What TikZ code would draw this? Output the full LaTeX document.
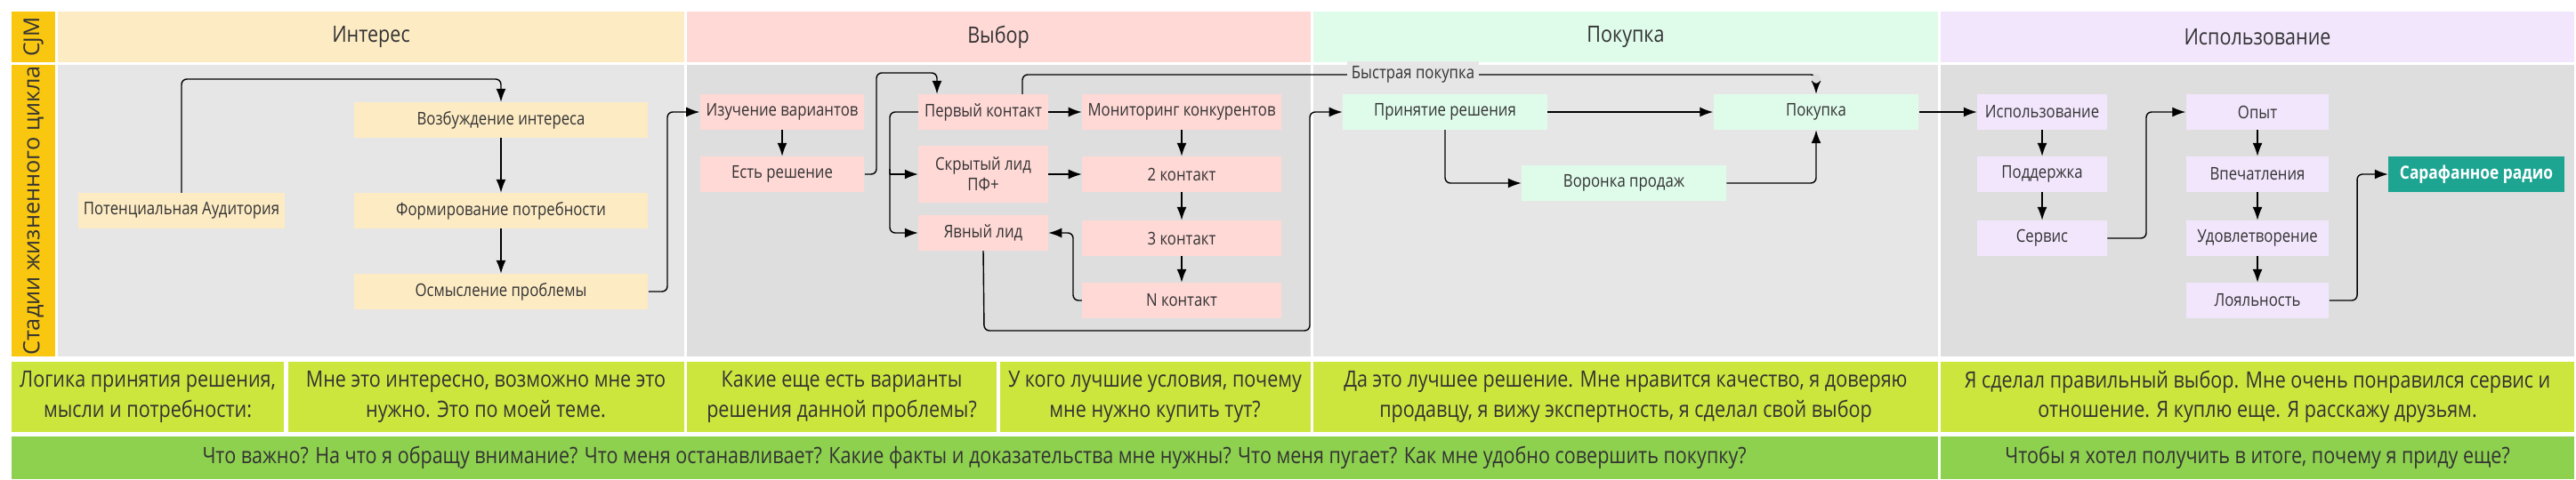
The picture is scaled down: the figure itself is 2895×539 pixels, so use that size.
\documentclass[tikz,border=0pt]{standalone}
\usepackage{fontspec}
\setmainfont[FakeStretch=0.85]{Open Sans}
\newfontfamily\wideos{Open Sans}
\usetikzlibrary{arrows.meta}
\definecolor{cYel}{HTML}{FAC710}
\definecolor{hInt}{HTML}{FDEBC4}
\definecolor{hVyb}{HTML}{FFD9D6}
\definecolor{hPok}{HTML}{DFFCEB}
\definecolor{hIsp}{HTML}{F2E6FD}
\definecolor{gA}{HTML}{E6E6E6}
\definecolor{gB}{HTML}{DEDEDE}
\definecolor{cLime}{HTML}{CDE63D}
\definecolor{cGrn}{HTML}{8ED14F}
\definecolor{cTeal}{HTML}{1EA592}
\definecolor{cTxt}{HTML}{333333}
\tikzset{
  box/.style={minimum width=#1, minimum height=0.39cm, inner sep=0pt, align=center, font=\fontsize{5.6}{6.6}\selectfont, text=cTxt},
  hdr/.style={font=\fontsize{7.2}{8.6}\selectfont, text=cTxt},
  row/.style={font=\fontsize{7.2}{9.4}\selectfont, text=cTxt, align=center},
  con/.style={draw=black, line width=0.4pt, rounded corners=0.06cm, -{Latex[length=1.5mm,width=1.1mm]}},
  conn/.style={draw=black, line width=0.4pt, rounded corners=0.06cm}
}
\begin{document}
\begin{tikzpicture}[x=0.01cm,y=-0.01cm]
\useasboundingbox (0,0) rectangle (2895,539);
\fill[white] (0,0) rectangle (2895,539);
% left strip
\fill[cYel] (13,13) rectangle (62,70);
\fill[cYel] (13,73) rectangle (62,401);
\node[rotate=90, font=\wideos\fontsize{7}{8}\selectfont, text=cTxt] (cjm) at (37.5,41.5) {CJM};
\node[rotate=90, font=\wideos\fontsize{7.2}{8}\selectfont, text=cTxt] (life) at (37.5,237) {Стадии жизненного цикла};
% headers
\fill[hInt] (65,13) rectangle (769,70);
\fill[hVyb] (772,13) rectangle (1473,70);
\fill[hPok] (1476,13) rectangle (2178,70);
\fill[hIsp] (2181,13) rectangle (2893,70);
\node[hdr] (h1) at (417,41.5) {Интерес};
\node[hdr] (h2) at (1122,41.5) {Выбор};
\node[hdr] (h3) at (1827,41.5) {Покупка};
\node[hdr] (h4) at (2537,41.5) {Использование};
% bodies
\fill[gA] (65,73) rectangle (769,401);
\fill[gB] (772,73) rectangle (1473,401);
\fill[gA] (1476,73) rectangle (2178,401);
\fill[gB] (2181,73) rectangle (2893,401);
% row 3
\fill[cLime] (13,407) rectangle (319,486);
\fill[cLime] (324,407) rectangle (769,486);
\fill[cLime] (772,407) rectangle (1120,486);
\fill[cLime] (1124,407) rectangle (1473,486);
\fill[cLime] (1476,407) rectangle (2178,486);
\fill[cLime] (2181,407) rectangle (2893,486);
\node[row] (r1) at (166,446.5) {Логика принятия решения,\\мысли и потребности:};
\node[row] (r2) at (546,446.5) {Мне это интересно, возможно мне это\\нужно. Это по моей теме.};
\node[row] (r3) at (946,446.5) {Какие еще есть варианты\\решения данной проблемы?};
\node[row] (r4) at (1298,446.5) {У кого лучшие условия, почему\\мне нужно купить тут?};
\node[row] (r5) at (1827,446.5) {Да это лучшее решение. Мне нравится качество, я доверяю\\продавцу, я вижу экспертность, я сделал свой выбор};
\node[row] (r6) at (2537,446.5) {Я сделал правильный выбор. Мне очень понравился сервис и\\отношение. Я куплю еще. Я расскажу друзьям.};
% row 4
\fill[cGrn] (13,491) rectangle (2178,539);
\fill[cGrn] (2181,491) rectangle (2893,539);
\node[row] (q1) at (1095,515) {Что важно? На что я обращу внимание? Что меня останавливает? Какие факты и доказательства мне нужны? Что меня пугает? Как мне удобно совершить покупку?};
\node[row] (q2) at (2537,515) {Чтобы я хотел получить в итоге, почему я приду еще?};
% Interest nodes
\node[box=2.32cm, fill=hInt] (pa) at (204,237) {Потенциальная Аудитория};
\node[box=3.3cm, fill=hInt] (vi) at (563,135) {Возбуждение интереса};
\node[box=3.3cm, fill=hInt] (fp) at (563,237) {Формирование потребности};
\node[box=3.3cm, fill=hInt] (op) at (563,328) {Осмысление проблемы};
% Choice nodes
\node[box=1.84cm, fill=hVyb] (iz) at (879,126) {Изучение вариантов};
\node[box=1.84cm, fill=hVyb] (er) at (879,196) {Есть решение};
\node[box=1.45cm, fill=hVyb] (pk) at (1105,126) {Первый контакт};
\node[box=1.45cm, fill=hVyb, minimum height=0.63cm] (sl) at (1105,196) {Скрытый лид\\ПФ+};
\node[box=1.45cm, fill=hVyb] (yl) at (1105,262) {Явный лид};
\node[box=2.23cm, fill=hVyb] (mk) at (1328,126) {Мониторинг конкурентов};
\node[box=2.23cm, fill=hVyb] (k2) at (1328,196) {2 контакт};
\node[box=2.23cm, fill=hVyb] (k3) at (1328,268) {3 контакт};
\node[box=2.23cm, fill=hVyb] (kn) at (1328,338) {N контакт};
% Purchase nodes
\node[box=2.29cm, fill=hPok] (pr) at (1624,126) {Принятие решения};
\node[box=2.30cm, fill=hPok] (pu) at (2041,126) {Покупка};
\node[box=2.29cm, fill=hPok] (vp) at (1825,206) {Воронка продаж};
% Usage nodes
\node[box=1.45cm, fill=hIsp] (is) at (2295,126) {Использование};
\node[box=1.45cm, fill=hIsp] (pd) at (2295,196) {Поддержка};
\node[box=1.45cm, fill=hIsp] (sv) at (2295,268) {Сервис};
\node[box=1.60cm, fill=hIsp] (oy) at (2537,126) {Опыт};
\node[box=1.60cm, fill=hIsp] (vc) at (2537,196) {Впечатления};
\node[box=1.60cm, fill=hIsp] (ud) at (2537,268) {Удовлетворение};
\node[box=1.60cm, fill=hIsp] (lo) at (2537,338) {Лояльность};
\node[box=1.97cm, fill=cTeal, text=white, font=\bfseries\fontsize{5.8}{7}\selectfont] (sr) at (2783,196) {Сарафанное радио};
% Interest connectors
\draw[con] (pa.north) -- (204,89) -- (563,89) -- (vi.north);
\draw[con] (vi) -- (fp);
\draw[con] (fp) -- (op);
\draw[con] (op.east) -- (750,328) -- (750,126) -- (iz.west);
% Choice connectors
\draw[con] (iz) -- (er);
\draw[con] (er.east) -- (985,196) -- (985,82) -- (1053,82) -- (1053,126 |- pk.north);
\draw[conn] (pk.west) -- (1000,126) -- (1000,196);
\draw[con] (1000,196) -- (sl.west);
\draw[con] (1000,190) -- (1000,262) -- (yl.west);
\draw[con] (pk) -- (mk);
\draw[con] (sl) -- (k2);
\draw[con] (mk) -- (k2);
\draw[con] (k2) -- (k3);
\draw[con] (k3) -- (kn);
\draw[con] (kn.west) -- (1206,338) -- (1206,262) -- (yl.east);
\draw[con] (yl.south) -- (1106,372) -- (1472,372) -- (1472,126) -- (pr.west);
\draw[con] (1149,126 |- pk.north) -- (1149,84) -- (2041,84) -- (pu.north)
  node[pos=0.2, fill=gB, inner sep=1.5pt, font=\fontsize{5.6}{6.6}\selectfont, text=cTxt] (bq) at (1588,84) {};
\node[fill=gA, inner sep=1.5pt, font=\fontsize{5.6}{6.6}\selectfont, text=cTxt] (bql) at (1588,84) {Быстрая покупка};
% Purchase connectors
\draw[con] (pr) -- (pu);
\draw[con] (pr.south) -- (1624,206) -- (vp.west);
\draw[con] (vp.east) -- (2041,206) -- (pu.south);
\draw[con] (pu) -- (is);
% Usage connectors
\draw[con] (is) -- (pd);
\draw[con] (pd) -- (sv);
\draw[con] (sv.east) -- (2412,268) -- (2412,126) -- (oy.west);
\draw[con] (oy) -- (vc);
\draw[con] (vc) -- (ud);
\draw[con] (ud) -- (lo);
\draw[con] (lo.east) -- (2649,338) -- (2649,196) -- (sr.west);
\end{tikzpicture}
\end{document}
